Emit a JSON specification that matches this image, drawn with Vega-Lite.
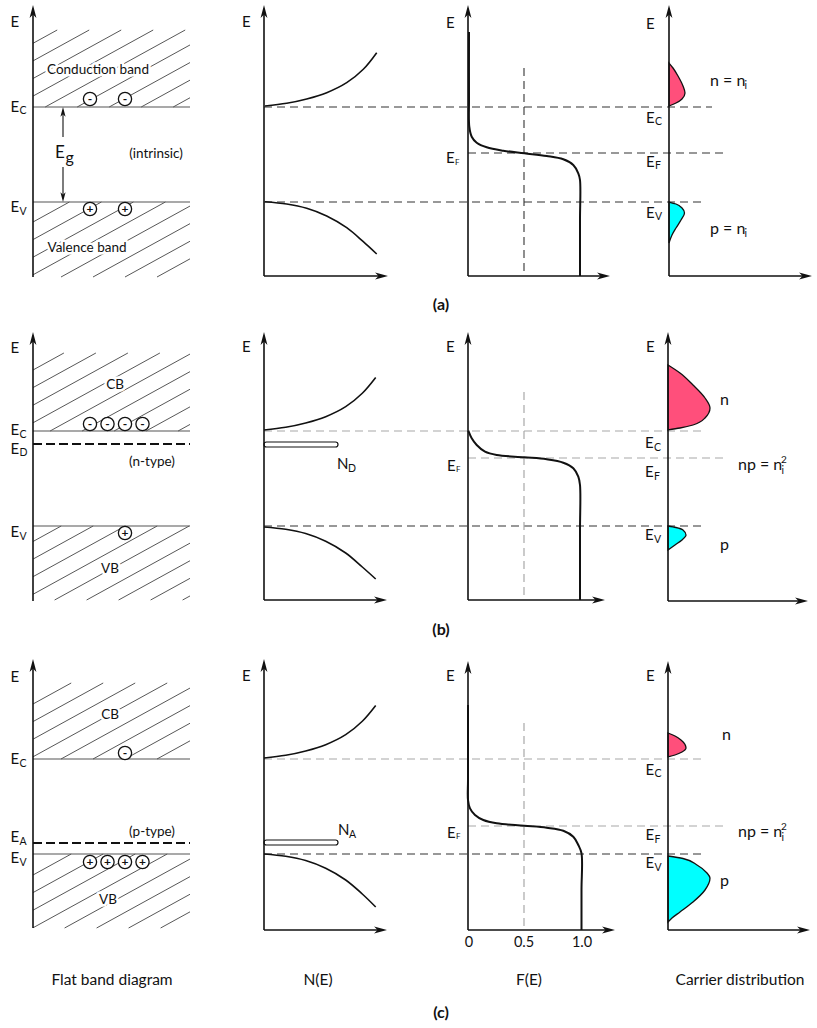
{
"$schema":"https://vega.github.io/schema/vega-lite/v6.json",
"width":817,"height":1028,"autosize":{"type":"none"},"padding":0,
"background":"white",
"config":{"view":{"stroke":null}},
"datasets":{
"hatch":[
{"x":33,"y":43.3,"x2":57.2,"y2":30},{"x":33,"y":60.9,"x2":89.2,"y2":30},{"x":33,"y":78.5,"x2":121.2,"y2":30},{"x":33,"y":96.1,"x2":153.2,"y2":30},{"x":45.2,"y":107,"x2":185.2,"y2":30},{"x":77.2,"y":107,"x2":190,"y2":44.95},{"x":109.2,"y":107,"x2":190,"y2":62.55},{"x":141.2,"y":107,"x2":190,"y2":80.15},{"x":173.2,"y":107,"x2":190,"y2":97.75},
{"x":33,"y":222,"x2":69.4,"y2":202},{"x":33,"y":239.6,"x2":101.4,"y2":202},{"x":33,"y":257.2,"x2":133.4,"y2":202},{"x":33,"y":274.8,"x2":165.4,"y2":202},{"x":61,"y":277,"x2":190,"y2":206.05},{"x":93,"y":277,"x2":190,"y2":223.65},{"x":125,"y":277,"x2":190,"y2":241.25},{"x":157,"y":277,"x2":190,"y2":258.85},
{"x":33,"y":370,"x2":63.9,"y2":353},{"x":33,"y":387.6,"x2":95.9,"y2":353},{"x":33,"y":405.2,"x2":127.9,"y2":353},{"x":33,"y":422.8,"x2":159.9,"y2":353},{"x":50.1,"y":431,"x2":190,"y2":354.05},{"x":82.1,"y":431,"x2":190,"y2":371.65},{"x":114.1,"y":431,"x2":190,"y2":389.25},{"x":146.1,"y":431,"x2":190,"y2":406.85},{"x":178.1,"y":431,"x2":190,"y2":424.45},
{"x":33,"y":541.5,"x2":61.2,"y2":526},{"x":33,"y":559.1,"x2":93.2,"y2":526},{"x":33,"y":576.7,"x2":125.2,"y2":526},{"x":33,"y":594.3,"x2":157.2,"y2":526},{"x":54.6,"y":600,"x2":189.2,"y2":526},{"x":86.6,"y":600,"x2":190,"y2":543.15},{"x":118.6,"y":600,"x2":190,"y2":560.75},{"x":150.6,"y":600,"x2":190,"y2":578.35},{"x":182.6,"y":600,"x2":190,"y2":595.95},
{"x":33,"y":704,"x2":71.2,"y2":683},{"x":33,"y":721.6,"x2":103.2,"y2":683},{"x":33,"y":739.2,"x2":135.2,"y2":683},{"x":33,"y":756.8,"x2":167.2,"y2":683},{"x":61,"y":759,"x2":190,"y2":688.05},{"x":93,"y":759,"x2":190,"y2":705.65},{"x":125,"y":759,"x2":190,"y2":723.25},{"x":157,"y":759,"x2":190,"y2":740.85},
{"x":33,"y":875,"x2":71.2,"y2":854},{"x":33,"y":892.6,"x2":103.2,"y2":854},{"x":33,"y":910.2,"x2":135.2,"y2":854},{"x":33,"y":927.8,"x2":167.2,"y2":854},{"x":64.6,"y":928,"x2":190,"y2":859.05},{"x":96.6,"y":928,"x2":190,"y2":876.65},{"x":128.6,"y":928,"x2":190,"y2":894.25},{"x":160.6,"y":928,"x2":190,"y2":911.85}
],
"segs":[
{"k":"band","x":33,"y":107,"x2":190,"y2":107},{"k":"band","x":33,"y":202,"x2":190,"y2":202},{"k":"band","x":33,"y":431,"x2":190,"y2":431},{"k":"band","x":33,"y":526,"x2":190,"y2":526},{"k":"band","x":33,"y":759,"x2":190,"y2":759},{"k":"band","x":33,"y":854,"x2":190,"y2":854},
{"k":"level","x":33,"y":444,"x2":190,"y2":444},{"k":"level","x":33,"y":843,"x2":190,"y2":843},
{"k":"gdark","x":264,"y":107,"x2":712,"y2":107},{"k":"gdark","x":468,"y":153,"x2":727,"y2":153},{"k":"gdark","x":264,"y":202,"x2":702,"y2":202},{"k":"gdark","x":524,"y":68,"x2":524,"y2":276},{"k":"gdark","x":264,"y":526,"x2":703,"y2":526},{"k":"gdark","x":264,"y":854,"x2":703,"y2":854},
{"k":"ggray","x":264,"y":431,"x2":703,"y2":431},{"k":"ggray","x":468,"y":458,"x2":727,"y2":458},{"k":"ggray","x":524,"y":392,"x2":524,"y2":600},{"k":"ggray","x":264,"y":759,"x2":703,"y2":759},{"k":"ggray","x":468,"y":826,"x2":727,"y2":826},{"k":"ggray","x":524,"y":723,"x2":524,"y2":930},
{"k":"axis","x":33,"y":277,"x2":33,"y2":9},{"k":"axis","x":264,"y":276,"x2":264,"y2":9},{"k":"axis","x":264,"y":276,"x2":384,"y2":276},{"k":"axis","x":468,"y":276,"x2":468,"y2":9},{"k":"axis","x":468,"y":276,"x2":606,"y2":276},{"k":"axis","x":669,"y":276,"x2":669,"y2":9},{"k":"axis","x":669,"y":276,"x2":808,"y2":276},
{"k":"axis","x":33,"y":601,"x2":33,"y2":336},{"k":"axis","x":264,"y":600,"x2":264,"y2":336},{"k":"axis","x":264,"y":600,"x2":383,"y2":600},{"k":"axis","x":468,"y":600,"x2":468,"y2":336},{"k":"axis","x":468,"y":600,"x2":601,"y2":600},{"k":"axis","x":668,"y":601,"x2":668,"y2":336},{"k":"axis","x":668,"y":601,"x2":804,"y2":601},
{"k":"axis","x":33,"y":928,"x2":33,"y2":663},{"k":"axis","x":264,"y":930,"x2":264,"y2":663},{"k":"axis","x":264,"y":930,"x2":383,"y2":930},{"k":"axis","x":468,"y":930,"x2":468,"y2":665},{"k":"axis","x":468,"y":930,"x2":611,"y2":930},{"k":"axis","x":668,"y":930,"x2":668,"y2":665},{"k":"axis","x":668,"y":930,"x2":806,"y2":930},
{"k":"eg","x":63,"y":137,"x2":63,"y2":111},{"k":"eg","x":63,"y":167,"x2":63,"y2":198}
],
"arrows":[
{"d":"up","x":33,"y":5},{"d":"up","x":264,"y":5},{"d":"up","x":468,"y":5},{"d":"up","x":669,"y":5},
{"d":"up","x":33,"y":332},{"d":"up","x":264,"y":332},{"d":"up","x":468,"y":332},{"d":"up","x":668,"y":332},
{"d":"up","x":33,"y":659},{"d":"up","x":264,"y":659},{"d":"up","x":468,"y":661},{"d":"up","x":668,"y":661},
{"d":"right","x":388,"y":276},{"d":"right","x":610,"y":276},{"d":"right","x":812,"y":276},
{"d":"right","x":387,"y":600},{"d":"right","x":605,"y":600},{"d":"right","x":808,"y":601},
{"d":"right","x":387,"y":930},{"d":"right","x":615,"y":930},{"d":"right","x":810,"y":930},
{"d":"egup","x":63,"y":107},{"d":"egdown","x":63,"y":202}
],
"curves":[
{"k":"N","g":"aNc","i":0,"x":265,"y":106},{"k":"N","g":"aNc","i":1,"x":286.7,"y":103.3},{"k":"N","g":"aNc","i":2,"x":306.7,"y":99},{"k":"N","g":"aNc","i":3,"x":326.7,"y":92.7},{"k":"N","g":"aNc","i":4,"x":346.7,"y":82.7},{"k":"N","g":"aNc","i":5,"x":363.3,"y":69.3},{"k":"N","g":"aNc","i":6,"x":376.7,"y":52.7},
{"k":"N","g":"aNv","i":0,"x":265,"y":201.7},{"k":"N","g":"aNv","i":1,"x":286.7,"y":204},{"k":"N","g":"aNv","i":2,"x":306.7,"y":208.3},{"k":"N","g":"aNv","i":3,"x":326.7,"y":216},{"k":"N","g":"aNv","i":4,"x":346.7,"y":227.7},{"k":"N","g":"aNv","i":5,"x":363.3,"y":241.7},{"k":"N","g":"aNv","i":6,"x":376.7,"y":254},
{"k":"N","g":"bNc","i":0,"x":264,"y":430},{"k":"N","g":"bNc","i":1,"x":285.7,"y":427.3},{"k":"N","g":"bNc","i":2,"x":305.7,"y":423},{"k":"N","g":"bNc","i":3,"x":325.7,"y":416.7},{"k":"N","g":"bNc","i":4,"x":345.7,"y":406.7},{"k":"N","g":"bNc","i":5,"x":362.3,"y":393.3},{"k":"N","g":"bNc","i":6,"x":375.7,"y":377.5},
{"k":"N","g":"bNv","i":0,"x":264,"y":527},{"k":"N","g":"bNv","i":1,"x":285.7,"y":529.3},{"k":"N","g":"bNv","i":2,"x":305.7,"y":533.6},{"k":"N","g":"bNv","i":3,"x":325.7,"y":541.3},{"k":"N","g":"bNv","i":4,"x":345.7,"y":553},{"k":"N","g":"bNv","i":5,"x":362.3,"y":567},{"k":"N","g":"bNv","i":6,"x":375.7,"y":579},
{"k":"N","g":"cNc","i":0,"x":264,"y":758},{"k":"N","g":"cNc","i":1,"x":285.7,"y":755.3},{"k":"N","g":"cNc","i":2,"x":305.7,"y":751},{"k":"N","g":"cNc","i":3,"x":325.7,"y":744.7},{"k":"N","g":"cNc","i":4,"x":345.7,"y":734.7},{"k":"N","g":"cNc","i":5,"x":362.3,"y":721.3},{"k":"N","g":"cNc","i":6,"x":375.7,"y":705.5},
{"k":"N","g":"cNv","i":0,"x":264,"y":854},{"k":"N","g":"cNv","i":1,"x":285.7,"y":856.3},{"k":"N","g":"cNv","i":2,"x":305.7,"y":860.6},{"k":"N","g":"cNv","i":3,"x":325.7,"y":868.3},{"k":"N","g":"cNv","i":4,"x":345.7,"y":880},{"k":"N","g":"cNv","i":5,"x":362.3,"y":894},{"k":"N","g":"cNv","i":6,"x":375.7,"y":907},
{"k":"F","g":"aF","i":0,"x":469,"y":32},{"k":"F","g":"aF","i":1,"x":469,"y":100},{"k":"F","g":"aF","i":2,"x":469.3,"y":126.7},{"k":"F","g":"aF","i":3,"x":471.7,"y":136.7},{"k":"F","g":"aF","i":4,"x":476.7,"y":142.7},{"k":"F","g":"aF","i":5,"x":486.7,"y":147.3},{"k":"F","g":"aF","i":6,"x":503.3,"y":150.7},{"k":"F","g":"aF","i":7,"x":524.3,"y":153.3},{"k":"F","g":"aF","i":8,"x":546.7,"y":156},{"k":"F","g":"aF","i":9,"x":563.3,"y":159.3},{"k":"F","g":"aF","i":10,"x":573.3,"y":165},{"k":"F","g":"aF","i":11,"x":578.3,"y":173.3},{"k":"F","g":"aF","i":12,"x":580,"y":180},{"k":"F","g":"aF","i":13,"x":580,"y":220},{"k":"F","g":"aF","i":14,"x":580,"y":276},
{"k":"F","g":"bF","i":0,"x":468.3,"y":430.7},{"k":"F","g":"bF","i":1,"x":471.7,"y":438.3},{"k":"F","g":"bF","i":2,"x":476.7,"y":445},{"k":"F","g":"bF","i":3,"x":485,"y":451.7},{"k":"F","g":"bF","i":4,"x":496.7,"y":455},{"k":"F","g":"bF","i":5,"x":524.3,"y":457.3},{"k":"F","g":"bF","i":6,"x":546.7,"y":459.3},{"k":"F","g":"bF","i":7,"x":563.3,"y":462.7},{"k":"F","g":"bF","i":8,"x":573.3,"y":468.3},{"k":"F","g":"bF","i":9,"x":578.3,"y":476.7},{"k":"F","g":"bF","i":10,"x":580,"y":485},{"k":"F","g":"bF","i":11,"x":580,"y":530},{"k":"F","g":"bF","i":12,"x":580,"y":600},
{"k":"F","g":"cF","i":0,"x":468,"y":705},{"k":"F","g":"cF","i":1,"x":468,"y":780},{"k":"F","g":"cF","i":2,"x":468,"y":800},{"k":"F","g":"cF","i":3,"x":470,"y":808.3},{"k":"F","g":"cF","i":4,"x":475,"y":815},{"k":"F","g":"cF","i":5,"x":483.3,"y":820},{"k":"F","g":"cF","i":6,"x":496.7,"y":823.3},{"k":"F","g":"cF","i":7,"x":524.3,"y":825.7},{"k":"F","g":"cF","i":8,"x":546.7,"y":827.7},{"k":"F","g":"cF","i":9,"x":563.3,"y":830.7},{"k":"F","g":"cF","i":10,"x":573.3,"y":836.7},{"k":"F","g":"cF","i":11,"x":578.3,"y":845},{"k":"F","g":"cF","i":12,"x":581.5,"y":853.3},{"k":"F","g":"cF","i":13,"x":581.5,"y":890},{"k":"F","g":"cF","i":14,"x":581.5,"y":930}
],
"carriers":[
{"g":"an","c":"n","y":63,"x":669,"x0":669},{"g":"an","c":"n","y":68,"x":673,"x0":669},{"g":"an","c":"n","y":76,"x":678,"x0":669},{"g":"an","c":"n","y":86,"x":683,"x0":669},{"g":"an","c":"n","y":93,"x":685,"x0":669},{"g":"an","c":"n","y":99,"x":682,"x0":669},{"g":"an","c":"n","y":103,"x":676,"x0":669},{"g":"an","c":"n","y":106,"x":669,"x0":669},
{"g":"ap","c":"p","y":202,"x":669,"x0":669},{"g":"ap","c":"p","y":204,"x":676,"x0":669},{"g":"ap","c":"p","y":208,"x":682,"x0":669},{"g":"ap","c":"p","y":213,"x":684.5,"x0":669},{"g":"ap","c":"p","y":220,"x":681,"x0":669},{"g":"ap","c":"p","y":228,"x":676,"x0":669},{"g":"ap","c":"p","y":235,"x":672,"x0":669},{"g":"ap","c":"p","y":243,"x":669,"x0":669},
{"g":"bn","c":"n","y":365,"x":668,"x0":668},{"g":"bn","c":"n","y":373,"x":680,"x0":668},{"g":"bn","c":"n","y":385,"x":693,"x0":668},{"g":"bn","c":"n","y":398,"x":705,"x0":668},{"g":"bn","c":"n","y":408,"x":710,"x0":668},{"g":"bn","c":"n","y":418,"x":705,"x0":668},{"g":"bn","c":"n","y":425,"x":693,"x0":668},{"g":"bn","c":"n","y":428,"x":680,"x0":668},{"g":"bn","c":"n","y":430,"x":668,"x0":668},
{"g":"bp","c":"p","y":526,"x":668,"x0":668},{"g":"bp","c":"p","y":527.5,"x":676,"x0":668},{"g":"bp","c":"p","y":530,"x":683,"x0":668},{"g":"bp","c":"p","y":535,"x":686,"x0":668},{"g":"bp","c":"p","y":540,"x":682,"x0":668},{"g":"bp","c":"p","y":545,"x":675,"x0":668},{"g":"bp","c":"p","y":550,"x":668,"x0":668},
{"g":"cn","c":"n","y":733,"x":668,"x0":668},{"g":"cn","c":"n","y":736,"x":675,"x0":668},{"g":"cn","c":"n","y":740,"x":681,"x0":668},{"g":"cn","c":"n","y":748,"x":686,"x0":668},{"g":"cn","c":"n","y":752,"x":682,"x0":668},{"g":"cn","c":"n","y":755,"x":675,"x0":668},{"g":"cn","c":"n","y":757,"x":668,"x0":668},
{"g":"cp","c":"p","y":856,"x":668,"x0":668},{"g":"cp","c":"p","y":858.5,"x":683,"x0":668},{"g":"cp","c":"p","y":865,"x":697,"x0":668},{"g":"cp","c":"p","y":873,"x":707,"x0":668},{"g":"cp","c":"p","y":878,"x":710,"x0":668},{"g":"cp","c":"p","y":890,"x":705,"x0":668},{"g":"cp","c":"p","y":902,"x":693,"x0":668},{"g":"cp","c":"p","y":912,"x":680,"x0":668},{"g":"cp","c":"p","y":918,"x":672,"x0":668},{"g":"cp","c":"p","y":922,"x":668,"x0":668}
],
"bars":[{"x":264,"x2":338,"y":442,"y2":447},{"x":264,"x2":338,"y":840,"y2":845}],
"charges":[
{"x":90,"y":99,"s":"-"},{"x":125,"y":99,"s":"-"},{"x":90,"y":209,"s":"+"},{"x":125,"y":209,"s":"+"},
{"x":90,"y":424,"s":"-"},{"x":107.5,"y":424,"s":"-"},{"x":125,"y":424,"s":"-"},{"x":142.5,"y":424,"s":"-"},{"x":125,"y":533,"s":"+"},
{"x":125,"y":753,"s":"-"},{"x":90,"y":862,"s":"+"},{"x":107.5,"y":862,"s":"+"},{"x":125,"y":862,"s":"+"},{"x":142.5,"y":862,"s":"+"}
],
"labels":[
{"x":10.5,"y":22,"t":"E","r":"E"},{"x":10.5,"y":107,"t":"E","r":"E"},{"x":19.5,"y":111,"t":"C","r":"sub"},{"x":10.5,"y":207,"t":"E","r":"E"},{"x":19.5,"y":212,"t":"V","r":"sub"},
{"x":55,"y":153,"t":"E","r":"big"},{"x":65.5,"y":158,"t":"g","r":"low"},
{"x":242,"y":22,"t":"E","r":"E"},{"x":446,"y":23,"t":"E","r":"E"},{"x":446,"y":158,"t":"E","r":"E"},{"x":455,"y":163,"t":"F","r":"tiny"},
{"x":646,"y":24,"t":"E","r":"E"},{"x":646,"y":118,"t":"E","r":"E"},{"x":655,"y":122,"t":"C","r":"sub"},{"x":646,"y":162,"t":"E","r":"E"},{"x":655,"y":166,"t":"F","r":"sub"},{"x":646,"y":213,"t":"E","r":"E"},{"x":655,"y":217,"t":"V","r":"sub"},
{"x":710,"y":81,"t":"n = n","r":"low"},{"x":744.5,"y":86,"t":"i","r":"sub"},{"x":710,"y":229,"t":"p = n","r":"low"},{"x":744.5,"y":234,"t":"i","r":"sub"},
{"x":10.5,"y":348,"t":"E","r":"E"},{"x":10.5,"y":430,"t":"E","r":"E"},{"x":19.5,"y":435,"t":"C","r":"sub"},{"x":10.5,"y":449,"t":"E","r":"E"},{"x":19.5,"y":453,"t":"D","r":"sub"},{"x":10.5,"y":532,"t":"E","r":"E"},{"x":19.5,"y":537,"t":"V","r":"sub"},
{"x":242,"y":347,"t":"E","r":"E"},{"x":337,"y":464,"t":"N","r":"E"},{"x":348,"y":469,"t":"D","r":"sub"},
{"x":446,"y":347,"t":"E","r":"E"},{"x":447,"y":466,"t":"E","r":"E"},{"x":456,"y":470,"t":"F","r":"tiny"},
{"x":646,"y":347,"t":"E","r":"E"},{"x":645,"y":443,"t":"E","r":"E"},{"x":654,"y":448,"t":"C","r":"sub"},{"x":645,"y":472,"t":"E","r":"E"},{"x":654,"y":477,"t":"F","r":"sub"},{"x":645,"y":535,"t":"E","r":"E"},{"x":654,"y":540,"t":"V","r":"sub"},
{"x":720,"y":400,"t":"n","r":"low"},{"x":738,"y":465,"t":"np = n","r":"low"},{"x":781,"y":460,"t":"2","r":"sup"},{"x":781.5,"y":471,"t":"i","r":"sub"},{"x":720,"y":545,"t":"p","r":"low"},
{"x":10.5,"y":677,"t":"E","r":"E"},{"x":10.5,"y":759,"t":"E","r":"E"},{"x":19.5,"y":764,"t":"C","r":"sub"},{"x":10.5,"y":837,"t":"E","r":"E"},{"x":19.5,"y":842,"t":"A","r":"sub"},{"x":10.5,"y":858,"t":"E","r":"E"},{"x":19.5,"y":863,"t":"V","r":"sub"},
{"x":242,"y":676,"t":"E","r":"E"},{"x":338,"y":830,"t":"N","r":"E"},{"x":349,"y":835,"t":"A","r":"sub"},
{"x":446,"y":676,"t":"E","r":"E"},{"x":447,"y":833,"t":"E","r":"E"},{"x":456,"y":837,"t":"F","r":"tiny"},
{"x":646,"y":676,"t":"E","r":"E"},{"x":645.5,"y":770,"t":"E","r":"E"},{"x":654.5,"y":774,"t":"C","r":"sub"},{"x":645.5,"y":835,"t":"E","r":"E"},{"x":654.5,"y":840,"t":"F","r":"sub"},{"x":645.5,"y":863,"t":"E","r":"E"},{"x":654.5,"y":868,"t":"V","r":"sub"},
{"x":722,"y":735,"t":"n","r":"low"},{"x":738,"y":832,"t":"np = n","r":"low"},{"x":781,"y":827,"t":"2","r":"sup"},{"x":781.5,"y":838,"t":"i","r":"sub"},{"x":720,"y":881,"t":"p","r":"low"}
],
"ctext":[
{"x":98,"y":70,"t":"Conduction band","r":"band"},{"x":156,"y":154,"t":"(intrinsic)","r":"band"},{"x":87,"y":248,"t":"Valence band","r":"band"},
{"x":115,"y":385,"t":"CB","r":"band"},{"x":152,"y":462,"t":"(n-type)","r":"band"},{"x":110,"y":569,"t":"VB","r":"band"},
{"x":110,"y":715,"t":"CB","r":"band"},{"x":152,"y":832,"t":"(p-type)","r":"band"},{"x":108,"y":900,"t":"VB","r":"band"},
{"x":112,"y":980,"t":"Flat band diagram","r":"title"},{"x":318,"y":980,"t":"N(E)","r":"title"},{"x":529,"y":980,"t":"F(E)","r":"title"},{"x":740,"y":980,"t":"Carrier distribution","r":"title"},
{"x":469,"y":943,"t":"0","r":"tick"},{"x":524,"y":943,"t":"0.5","r":"tick"},{"x":582,"y":943,"t":"1.0","r":"tick"}
],
"panels":[{"x":441,"y":305,"t":"(a)"},{"x":441,"y":630,"t":"(b)"},{"x":441,"y":1013,"t":"(c)"}]
},
"encoding":{
"x":{"field":"x","type":"quantitative","scale":{"domain":[0,817],"nice":false,"zero":false},"axis":null},
"y":{"field":"y","type":"quantitative","scale":{"domain":[0,1028],"nice":false,"zero":false,"reverse":true},"axis":null}
},
"layer":[
{"data":{"name":"hatch"},"mark":{"type":"rule","color":"#444","strokeWidth":0.9},"encoding":{"x2":{"field":"x2"},"y2":{"field":"y2"}}},
{"data":{"name":"segs"},"transform":[{"filter":"datum.k=='band'"}],"mark":{"type":"rule","color":"#555","strokeWidth":1.1},"encoding":{"x2":{"field":"x2"},"y2":{"field":"y2"}}},
{"data":{"name":"segs"},"transform":[{"filter":"datum.k=='level'"}],"mark":{"type":"rule","color":"#111","strokeWidth":2,"strokeDash":[9,4]},"encoding":{"x2":{"field":"x2"},"y2":{"field":"y2"}}},
{"data":{"name":"segs"},"transform":[{"filter":"datum.k=='gdark'"}],"mark":{"type":"rule","color":"#333","strokeWidth":1.1,"strokeDash":[8,5]},"encoding":{"x2":{"field":"x2"},"y2":{"field":"y2"}}},
{"data":{"name":"segs"},"transform":[{"filter":"datum.k=='ggray'"}],"mark":{"type":"rule","color":"#a8a8a8","strokeWidth":1.2,"strokeDash":[8,5]},"encoding":{"x2":{"field":"x2"},"y2":{"field":"y2"}}},
{"data":{"name":"carriers"},"mark":{"type":"area","orient":"horizontal","interpolate":"monotone","stroke":"#111","strokeWidth":1.3,"opacity":1},
 "encoding":{"x":{"field":"x","type":"quantitative","stack":null,"scale":{"domain":[0,817],"nice":false,"zero":false},"axis":null},"x2":{"field":"x0"},"detail":{"field":"g"},
 "color":{"field":"c","type":"nominal","scale":{"domain":["n","p"],"range":["#ff4f7b","#00ffff"]},"legend":null}}},
{"data":{"name":"curves"},"transform":[{"filter":"datum.k=='N'"}],"mark":{"type":"line","color":"#111","strokeWidth":1.6,"interpolate":"catmull-rom"},"encoding":{"detail":{"field":"g"},"order":{"field":"i","type":"quantitative"}}},
{"data":{"name":"bars"},"mark":{"type":"rect","fill":"white","stroke":"#111","strokeWidth":1.2,"cornerRadius":2.5},"encoding":{"x2":{"field":"x2"},"y2":{"field":"y2"}}},
{"data":{"name":"curves"},"transform":[{"filter":"datum.k=='F'"}],"mark":{"type":"line","color":"#111","strokeWidth":2,"interpolate":"catmull-rom"},"encoding":{"detail":{"field":"g"},"order":{"field":"i","type":"quantitative"}}},
{"data":{"name":"segs"},"transform":[{"filter":"datum.k=='axis'"}],"mark":{"type":"rule","color":"#111","strokeWidth":1.6},"encoding":{"x2":{"field":"x2"},"y2":{"field":"y2"}}},
{"data":{"name":"segs"},"transform":[{"filter":"datum.k=='eg'"}],"mark":{"type":"rule","color":"#111","strokeWidth":1.1},"encoding":{"x2":{"field":"x2"},"y2":{"field":"y2"}}},
{"data":{"name":"arrows"},"transform":[{"filter":"datum.d=='up'"}],"mark":{"type":"point","shape":"M0,0L0.45,1.7L0,1.25L-0.45,1.7Z","size":230,"filled":true,"color":"#111","opacity":1}},
{"data":{"name":"arrows"},"transform":[{"filter":"datum.d=='right'"}],"mark":{"type":"point","shape":"M0,0L0.45,1.7L0,1.25L-0.45,1.7Z","size":230,"angle":90,"filled":true,"color":"#111","opacity":1}},
{"data":{"name":"arrows"},"transform":[{"filter":"datum.d=='egup'"}],"mark":{"type":"point","shape":"M0,0L0.45,1.7L0,1.25L-0.45,1.7Z","size":130,"filled":true,"color":"#111","opacity":1}},
{"data":{"name":"arrows"},"transform":[{"filter":"datum.d=='egdown'"}],"mark":{"type":"point","shape":"M0,0L0.45,1.7L0,1.25L-0.45,1.7Z","size":130,"angle":180,"filled":true,"color":"#111","opacity":1}},
{"data":{"name":"charges"},"mark":{"type":"point","shape":"circle","size":175,"filled":true,"fill":"white","stroke":"#111","strokeWidth":1.3,"opacity":1}},
{"data":{"name":"charges"},"mark":{"type":"text","font":"Lato","fontSize":12,"fontWeight":"bold","align":"center","baseline":"middle","color":"#111"},"encoding":{"text":{"field":"s"}}},
{"data":{"name":"ctext"},"transform":[{"filter":"datum.r=='band'"}],"mark":{"type":"text","font":"Lato","fontSize":13.5,"align":"center","baseline":"middle","fill":"white","stroke":"white","strokeWidth":5,"strokeJoin":"round"},"encoding":{"text":{"field":"t"}}},
{"data":{"name":"ctext"},"mark":{"type":"text","font":"Lato","align":"center","baseline":"middle","color":"#111"},"encoding":{"text":{"field":"t"},
 "size":{"field":"r","type":"nominal","scale":{"type":"ordinal","domain":["E","sub","tiny","big","low","sup","band","title","tick"],"range":[15,10.5,8,17,16,10,13.5,15.5,14.5]},"legend":null}}},
{"data":{"name":"labels"},"mark":{"type":"text","font":"Lato","align":"left","baseline":"middle","color":"#111"},"encoding":{"text":{"field":"t"},
 "size":{"field":"r","type":"nominal","scale":{"type":"ordinal","domain":["E","sub","tiny","big","low","sup","band","title","tick"],"range":[15,10.5,8,17,16,10,13.5,15.5,14.5]},"legend":null}}},
{"data":{"name":"panels"},"mark":{"type":"text","font":"Lato","fontSize":16,"fontWeight":"bold","align":"center","baseline":"middle","color":"#111"},"encoding":{"text":{"field":"t"}}}
]
}
